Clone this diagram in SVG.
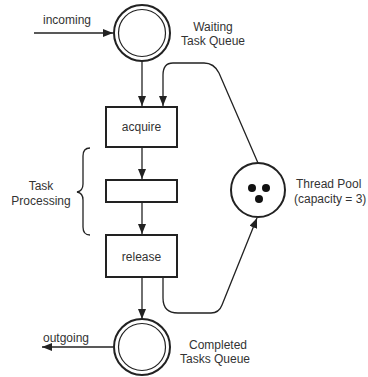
<svg xmlns="http://www.w3.org/2000/svg" width="368" height="377" viewBox="0 0 368 377">
  <style>
    text { font-family: "Liberation Sans", Arial, sans-serif; font-size: 12px; fill: #333; }
    .box { fill: #fff; stroke: #222; stroke-width: 2; }
    .place { fill: #fff; stroke: #222; stroke-width: 2; }
    .inner { fill: none; stroke: #222; stroke-width: 1.2; }
    .edge { fill: none; stroke: #222; stroke-width: 1.3; }
    .token { fill: #111; }
  </style>
  <defs>
    <marker id="arrow" viewBox="0 0 10 8" refX="10" refY="4" markerWidth="10" markerHeight="8" markerUnits="userSpaceOnUse" orient="auto">
      <path d="M0,0 L10,4 L0,8 z" fill="#222"/>
    </marker>
  </defs>

  <!-- connectors -->
  <g id="connectors">
    <line class="edge" x1="34" y1="33" x2="113" y2="33" marker-end="url(#arrow)"/>
    <line class="edge" x1="142" y1="61" x2="142" y2="106" marker-end="url(#arrow)"/>
    <path class="edge" d="M258,163 L219,73 Q214,63 204,63 L173,63 Q163,63 163,75 L163,106" marker-end="url(#arrow)"/>
    <line class="edge" x1="142" y1="148" x2="142" y2="179" marker-end="url(#arrow)"/>
    <line class="edge" x1="142" y1="203" x2="142" y2="234" marker-end="url(#arrow)"/>
    <path class="edge" d="M163,278 L163,298 Q163,313 178,313 L211,313 Q219,313 222,305 L257,218" marker-end="url(#arrow)"/>
    <line class="edge" x1="142" y1="278" x2="142" y2="319" marker-end="url(#arrow)"/>
    <line class="edge" x1="113" y1="347" x2="42" y2="347" marker-end="url(#arrow)"/>
    <!-- brace spanning the processing steps -->
    <path class="edge" d="M90,148 Q83,148 83,156 L83,184 Q83,191 77,192 Q83,193 83,200 L83,227 Q83,235 90,235"/>
  </g>

  <g id="waiting-queue">
    <circle class="place" cx="142" cy="33" r="28"/>
    <circle class="inner" cx="142" cy="33" r="23.5"/>
    <text x="213" y="31" text-anchor="middle">Waiting</text>
    <text x="213" y="45" text-anchor="middle">Task Queue</text>
  </g>

  <g id="acquire">
    <rect class="box" x="106" y="107" width="71" height="40"/>
    <text x="141.5" y="131" text-anchor="middle">acquire</text>
  </g>

  <g id="process">
    <rect class="box" x="106" y="180" width="71" height="22"/>
  </g>

  <g id="release">
    <rect class="box" x="106" y="235" width="71" height="42"/>
    <text x="141.5" y="261" text-anchor="middle">release</text>
  </g>

  <g id="thread-pool">
    <circle class="place" cx="258" cy="190" r="27"/>
    <circle class="token" cx="252" cy="188" r="4"/>
    <circle class="token" cx="266" cy="188" r="4"/>
    <circle class="token" cx="259" cy="199" r="4"/>
    <text x="296" y="188">Thread Pool</text>
    <text x="294" y="203">(capacity = 3)</text>
  </g>

  <g id="completed-queue">
    <circle class="place" cx="142" cy="347" r="28"/>
    <circle class="inner" cx="142" cy="347" r="23.5"/>
    <text x="218" y="349" text-anchor="middle">Completed</text>
    <text x="215" y="363" text-anchor="middle">Tasks Queue</text>
  </g>

  <g id="labels">
    <text x="67" y="24" text-anchor="middle">incoming</text>
    <text x="66" y="342" text-anchor="middle">outgoing</text>
    <text x="41" y="190" text-anchor="middle">Task</text>
    <text x="41" y="205" text-anchor="middle">Processing</text>
  </g>
</svg>
